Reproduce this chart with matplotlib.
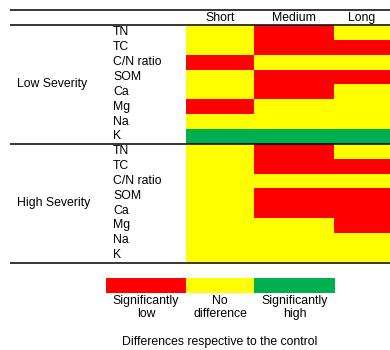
import matplotlib.pyplot as plt
import numpy as np
from matplotlib.colors import ListedColormap, BoundaryNorm

# DATA
COLUMNS = ["Short", "Medium", "Long"]
VARIABLES = ["TN", "TC", "C/N ratio", "SOM", "Ca", "Mg", "Na", "K"]
GROUPS = ["Low Severity", "High Severity"]
# 0 = significantly low, 1 = no difference, 2 = significantly high
LOW_SEVERITY = [
    [1, 0, 1],
    [1, 0, 0],
    [0, 1, 1],
    [1, 0, 0],
    [1, 0, 1],
    [0, 1, 1],
    [1, 1, 1],
    [2, 2, 2],
]
HIGH_SEVERITY = [
    [1, 0, 1],
    [1, 0, 0],
    [1, 1, 1],
    [1, 0, 0],
    [1, 0, 0],
    [1, 1, 0],
    [1, 1, 1],
    [1, 1, 1],
]
LEGEND_LABELS = ["Significantly\nlow", "No\ndifference", "Significantly\nhigh"]
LEGEND_TITLE = "Differences respective to the control"

# LAYOUT (pixels)
COLORS = ["#FF0000", "#FFFF00", "#00B050"]
COL_EDGES = [186, 254, 334, 390]
TABLE_TOP = 25
ROW_H = 14.85
LEG_EDGES = [106, 186, 254, 335]
FS = 8.8


def main():
    plt.rcParams["font.family"] = ["Liberation Sans", "DejaVu Sans"]
    fig = plt.figure(figsize=(3.9, 3.5), dpi=100)
    ax = fig.add_axes([0, 0, 1, 1])
    ax.set_xlim(0, 390)
    ax.set_ylim(350, 0)
    ax.axis("off")

    cmap = ListedColormap(COLORS)
    norm = BoundaryNorm([-0.5, 0.5, 1.5, 2.5], cmap.N)

    # Heatmap for both severity groups
    data = np.array(LOW_SEVERITY + HIGH_SEVERITY)
    n_rows = len(data)
    y_edges = TABLE_TOP + ROW_H * np.arange(n_rows + 1)
    ax.pcolormesh(COL_EDGES, y_edges, data, cmap=cmap, norm=norm)

    # Column headers
    for i, col in enumerate(COLUMNS):
        xc = (COL_EDGES[i] + COL_EDGES[i + 1]) / 2
        ax.text(xc, 18, col, ha="center", va="center", fontsize=FS)

    # Row labels and group labels
    for g, group in enumerate(GROUPS):
        base = g * len(VARIABLES)
        for j, var in enumerate(VARIABLES):
            yc = y_edges[base + j] + ROW_H / 2
            ax.text(113, yc, var, ha="left", va="center", fontsize=FS)
        ymid = (y_edges[base] + y_edges[base + len(VARIABLES)]) / 2
        ax.text(17, ymid, group, ha="left", va="center", fontsize=FS)

    # Horizontal rules
    for y in [10, y_edges[0], y_edges[8], y_edges[-1]]:
        ax.plot([10, 390], [y, y], color="black", lw=1.1,
                solid_capstyle="butt")

    # Legend
    for i, lab in enumerate(LEGEND_LABELS):
        ax.barh(285.5, LEG_EDGES[i + 1] - LEG_EDGES[i], left=LEG_EDGES[i],
                height=15, color=COLORS[i])
        xc = (LEG_EDGES[i] + LEG_EDGES[i + 1]) / 2
        ax.text(xc, 295, lab, ha="center", va="top", fontsize=FS,
                linespacing=1.1)
    ax.text(220, 342, LEGEND_TITLE, ha="center", va="center", fontsize=FS)

    fig.savefig("out.png", dpi=100)


if __name__ == "__main__":
    main()
